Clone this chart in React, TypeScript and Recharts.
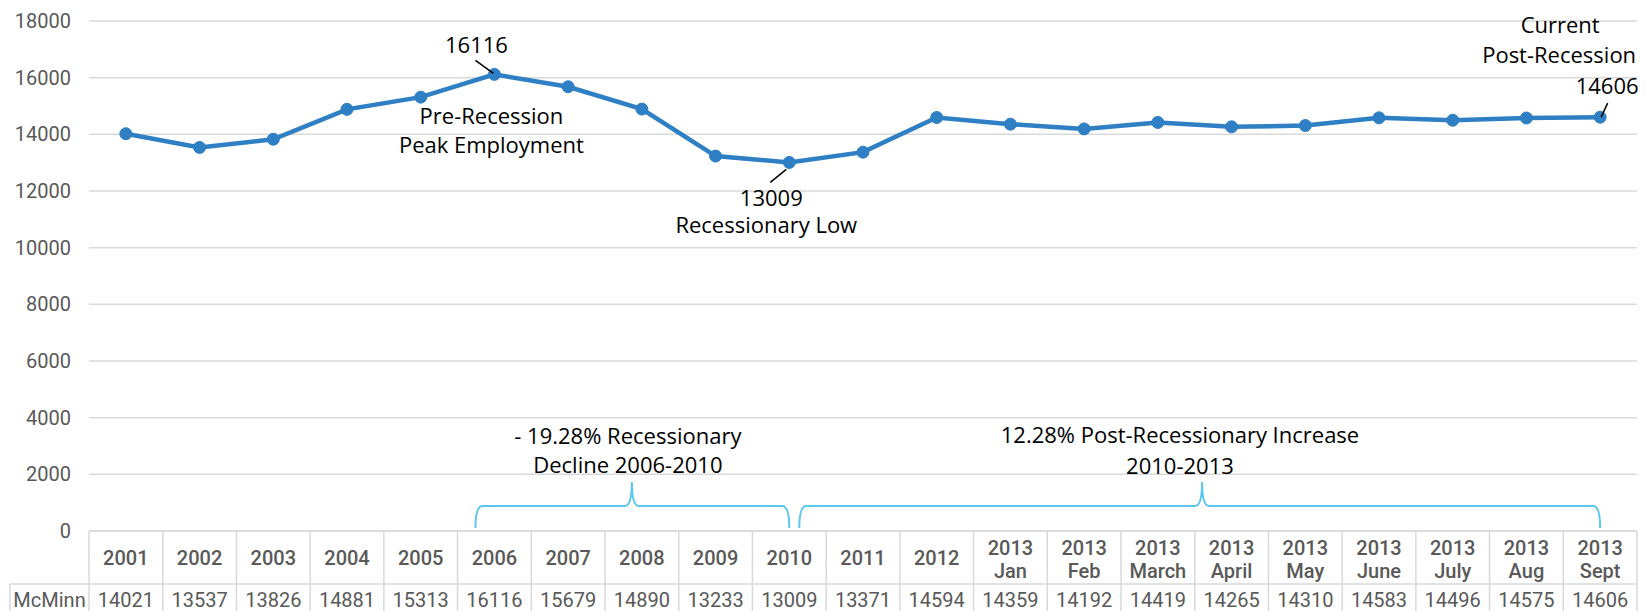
import React from 'react';
import { LineChart, Line, XAxis, YAxis, CartesianGrid, LabelList } from 'recharts';

const categories = [
  '2001', '2002', '2003', '2004', '2005', '2006', '2007', '2008', '2009', '2010', '2011', '2012',
  '2013 Jan', '2013 Feb', '2013 March', '2013 April', '2013 May', '2013 June', '2013 July', '2013 Aug', '2013 Sept',
];
const mcminn = [
  14021, 13537, 13826, 14881, 15313, 16116, 15679, 14890, 13233, 13009, 13371, 14594,
  14359, 14192, 14419, 14265, 14310, 14583, 14496, 14575, 14606,
];
const yTicks = [0, 2000, 4000, 6000, 8000, 10000, 12000, 14000, 16000, 18000];
const seriesName = 'McMinn';

const data = categories.map((c, i) => ({ category: c, McMinn: mcminn[i] }));

const W = 1645;
const H = 611;
const Y_AXIS_W = 89;
const RIGHT = 8;
const X_AXIS_H = 80;
const BAND = (W - Y_AXIS_W - RIGHT) / categories.length;
const TABLE_TOP = H - X_AXIS_H;
const ROW2_TOP = 584;

const BLUE = '#2E7FC3';
const BRACE = '#5BC7EE';
const GRID = '#d9d9d9';
const GRAY = '#595959';
const tickFont = { fontFamily: 'Roboto, sans-serif', fontSize: 20, fill: GRAY };
const noteFont = { fontFamily: '"Open Sans", sans-serif', fontSize: 22, fill: '#000' };

// curly brace opening upward, ends pointing down to the table
const bracePath = (x1: number, x2: number, tip: number) => {
  const yb = 528, yh = 506, yt = 482;
  return `M${x1},${yb} Q${x1},${yh} ${x1 + 7},${yh} L${tip - 7},${yh} Q${tip},${yh} ${tip},${yt} ` +
    `Q${tip},${yh} ${tip + 7},${yh} L${x2 - 7},${yh} Q${x2},${yh} ${x2},${yb}`;
};

const TableTick = (props: any) => {
  const { x, payload } = props;
  const index = payload.index ?? props.index;
  const label: string = payload.value;
  const lines = label.split(' ');
  const l = x - BAND / 2;
  const r = x + BAND / 2;
  return (
    <g>
      <line x1={l} y1={TABLE_TOP} x2={r} y2={TABLE_TOP} stroke={GRID} strokeWidth={1.5} />
      <line x1={l} y1={ROW2_TOP} x2={r} y2={ROW2_TOP} stroke={GRID} strokeWidth={1.5} />
      <line x1={r} y1={TABLE_TOP} x2={r} y2={H} stroke={GRID} strokeWidth={1.5} />
      {index === 0 && (
        <g>
          <line x1={l} y1={TABLE_TOP} x2={l} y2={H} stroke={GRID} strokeWidth={1.5} />
          <line x1={10} y1={ROW2_TOP} x2={l} y2={ROW2_TOP} stroke={GRID} strokeWidth={1.5} />
          <line x1={10} y1={ROW2_TOP} x2={10} y2={H} stroke={GRID} strokeWidth={1.5} />
          <text x={(10 + l) / 2} y={607} textAnchor="middle" {...tickFont}>{seriesName}</text>
        </g>
      )}
      {lines.length === 1 ? (
        <text x={x} y={565} textAnchor="middle" {...tickFont} fontWeight={500}>{lines[0]}</text>
      ) : (
        <text x={x} textAnchor="middle" {...tickFont} fontWeight={500}>
          <tspan x={x} y={555}>{lines[0]}</tspan>
          <tspan x={x} y={578}>{lines[1]}</tspan>
        </text>
      )}
      <text x={x} y={607} textAnchor="middle" {...tickFont}>{mcminn[index]}</text>
      {index === 9 && (
        <g>
          <path d={bracePath(x - 4 * BAND - 19, x, x - 2 * BAND - 10)} fill="none" stroke={BRACE} strokeWidth={2} />
          <path d={bracePath(x + 10, x + 11 * BAND, x + 5.6 * BAND)} fill="none" stroke={BRACE} strokeWidth={2} />
          <text x={x - 2 * BAND - 14} y={444} textAnchor="middle" {...noteFont}>- 19.28% Recessionary</text>
          <text x={x - 2 * BAND - 14} y={473} textAnchor="middle" {...noteFont}>Decline 2006-2010</text>
          <text x={x + 5.3 * BAND} y={443} textAnchor="middle" {...noteFont}>12.28% Post-Recessionary Increase</text>
          <text x={x + 5.3 * BAND} y={474} textAnchor="middle" {...noteFont}>2010-2013</text>
        </g>
      )}
    </g>
  );
};

const Callout = (props: any) => {
  const { x, y, index, value } = props;
  if (index === 5) {
    return (
      <g>
        <line x1={x - 19} y1={y - 14} x2={x - 1} y2={y - 1} stroke="#000" strokeWidth={1.5} />
        <text x={x - 18} y={y - 21} textAnchor="middle" {...noteFont}>{value}</text>
        <text x={x - 3} y={y + 50} textAnchor="middle" {...noteFont}>Pre-Recession</text>
        <text x={x - 3} y={y + 79} textAnchor="middle" {...noteFont}>Peak Employment</text>
      </g>
    );
  }
  if (index === 9) {
    return (
      <g>
        <line x1={x - 19} y1={y + 20} x2={x - 3} y2={y + 7} stroke="#000" strokeWidth={1.5} />
        <text x={x - 18} y={y + 44} textAnchor="middle" {...noteFont}>{value}</text>
        <text x={x - 23} y={y + 71} textAnchor="middle" {...noteFont}>Recessionary Low</text>
      </g>
    );
  }
  if (index === 20) {
    return (
      <g>
        <line x1={x + 7.5} y1={y - 14} x2={x + 1} y2={y} stroke="#000" strokeWidth={1.5} />
        <text x={x - 40} y={y - 84} textAnchor="middle" {...noteFont}>Current</text>
        <text x={x - 41} y={y - 54} textAnchor="middle" {...noteFont}>Post-Recession</text>
        <text x={x + 7} y={y - 23} textAnchor="middle" {...noteFont}>{value}</text>
      </g>
    );
  }
  return null;
};

export default function App() {
  return (
    <div style={{ position: 'absolute', left: 0, top: 0, width: W, height: H, background: '#fff' }}>
      <LineChart width={W} height={H} data={data} margin={{ top: 21, right: RIGHT, left: 0, bottom: 0 }}>
        <CartesianGrid vertical={false} stroke={GRID} strokeWidth={1.5} />
        <XAxis
          dataKey="category"
          height={X_AXIS_H}
          axisLine={false}
          tickLine={false}
          tickSize={0}
          interval={0}
          padding={{ left: BAND / 2, right: BAND / 2 }}
          tick={<TableTick />}
        />
        <YAxis
          width={Y_AXIS_W}
          domain={[0, 18000]}
          ticks={yTicks}
          axisLine={false}
          tickLine={false}
          tickMargin={12}
          tick={{ ...tickFont }}
        />
        <Line
          dataKey="McMinn"
          stroke={BLUE}
          strokeWidth={4.5}
          dot={{ r: 6, fill: BLUE, stroke: BLUE, strokeWidth: 1 }}
          isAnimationActive={false}
        >
          <LabelList dataKey="McMinn" content={<Callout />} />
        </Line>
      </LineChart>
    </div>
  );
}
